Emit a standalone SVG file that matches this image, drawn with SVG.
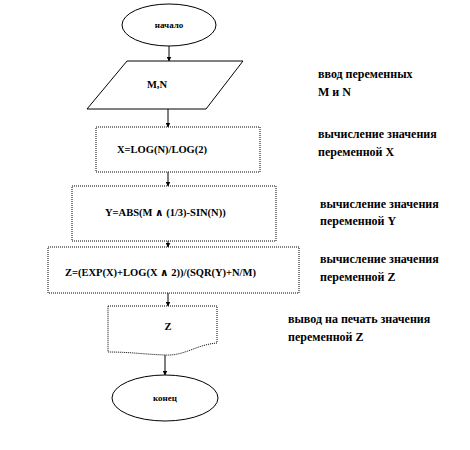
<svg xmlns="http://www.w3.org/2000/svg" width="470" height="450" viewBox="0 0 470 450">
<defs>
<marker id="ah" viewBox="0 0 10 10" refX="9" refY="5" markerWidth="5" markerHeight="5" orient="auto">
<path d="M0,0 L10,5 L0,10 z" fill="#000"/>
</marker>
<style>
.sh{fill:#fff;stroke:#000;stroke-width:1}
.dt{fill:#fff;stroke:#000;stroke-width:1;stroke-dasharray:1 1}
.t{font-family:"Liberation Serif","DejaVu Serif",serif;font-weight:bold;font-size:10.5px;fill:#000}
.n{font-size:12px}
.c{text-anchor:middle}
.ln{stroke:#000;stroke-width:1;fill:none}
</style>
</defs>
<rect width="470" height="450" fill="#fff"/>
<g id="connectors">
<line class="ln" x1="169" y1="46" x2="169" y2="61" marker-end="url(#ah)"/>
<line class="ln" x1="168" y1="109" x2="168" y2="127" marker-end="url(#ah)"/>
<line class="ln" x1="168" y1="172" x2="168" y2="186" marker-end="url(#ah)"/>
<line class="ln" x1="168" y1="241" x2="168" y2="247" marker-end="url(#ah)"/>
<line class="ln" x1="168" y1="293" x2="168" y2="306" marker-end="url(#ah)"/>
<line class="ln" x1="165" y1="355" x2="165" y2="375" marker-end="url(#ah)"/>
</g>
<g id="start">
<ellipse class="sh" cx="169" cy="25" rx="47" ry="21"/>
<text class="t c" x="169" y="28" style="font-size:9px">начало</text>
</g>
<g id="input">
<polygon class="sh" points="127,61 243,61 206,109 87,109"/>
<text class="t c" x="157" y="88">M,N</text>
</g>
<g id="calcX">
<rect class="dt" x="96" y="127" width="164" height="45"/>
<text class="t" x="117" y="153">X=LOG(N)/LOG(2)</text>
</g>
<g id="calcY">
<rect class="dt" x="72" y="186" width="204" height="55"/>
<text class="t" x="105" y="216">Y=ABS(M ∧ (1/3)-SIN(N))</text>
</g>
<g id="calcZ">
<rect class="dt" x="48" y="247" width="251" height="46"/>
<text class="t" x="65" y="276">Z=(EXP(X)+LOG(X ∧ 2))/(SQR(Y)+N/M)</text>
</g>
<g id="output">
<path class="dt" d="M108,306 L217,306 L217,343 C195,345 185,356 165,355 C140,354 130,352 108,352 Z"/>
<text class="t c" x="168" y="330">Z</text>
</g>
<g id="end">
<ellipse class="sh" cx="165" cy="398" rx="53" ry="23"/>
<text class="t c" x="165" y="401" style="font-size:9px">конец</text>
</g>
<g id="notes">
<text class="t n" x="318" y="78">ввод переменных</text>
<text class="t n" x="318" y="96">M и N</text>
<text class="t n" x="318" y="138">вычисление значения</text>
<text class="t n" x="318" y="156">переменной X</text>
<text class="t n" x="320" y="208">вычисление значения</text>
<text class="t n" x="320" y="225">переменной  Y</text>
<text class="t n" x="320" y="263">вычисление значения</text>
<text class="t n" x="320" y="281">переменной  Z</text>
<text class="t n" x="288" y="323">вывод на печать значения</text>
<text class="t n" x="288" y="341">переменной  Z</text>
</g>
</svg>
